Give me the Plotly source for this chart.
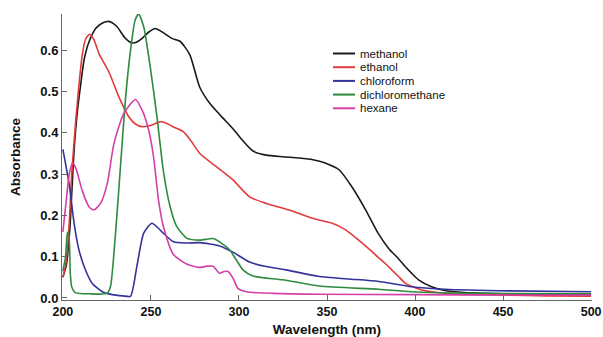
import plotly.graph_objects as go

# --- data ---
methanol_wl = [200, 202, 204, 205, 206.4, 208.3, 210.2, 212, 214.8, 218.6, 222, 225.2, 228, 230.8,
               235.5, 239.3, 242, 245, 249, 252.5, 256.2, 261.9, 266.5, 272, 277.8, 283.5, 290, 296.6,
               302, 308, 315.5, 325, 334, 342, 349, 357, 364, 372, 379, 385, 390.6, 394.4, 398,
               402, 409.4, 417, 428, 440, 460, 480, 500]
methanol_abs = [0.05, 0.08, 0.17, 0.25, 0.36, 0.455, 0.52, 0.576, 0.62, 0.653, 0.665, 0.67, 0.667, 0.657,
                0.629, 0.618, 0.62, 0.629, 0.645, 0.653, 0.645, 0.629, 0.622, 0.59, 0.51, 0.471, 0.44, 0.41,
                0.382, 0.356, 0.346, 0.342, 0.339, 0.335, 0.327, 0.31, 0.27, 0.213, 0.157, 0.12, 0.095, 0.076, 0.06,
                0.044, 0.027, 0.018, 0.013, 0.011, 0.009, 0.008, 0.008]

ethanol_wl = [200, 201.7, 203.6, 205, 206.4, 207.3, 209.2, 211.1, 213, 215.2, 217.7, 220.5, 226.1,
              231.8, 237.4, 241, 245, 250.6, 255.3, 258.5, 261.9, 268.4, 272, 277.8, 287.2, 296.6, 306,
              315.5, 328.6, 341.7, 353, 360.6, 368, 375.6, 379.4, 383, 387, 390.6, 394.4, 403.8, 413,
              425, 450, 475, 500]
ethanol_abs = [0.05, 0.084, 0.18, 0.30, 0.38, 0.43, 0.52, 0.592, 0.628, 0.639, 0.625, 0.592, 0.548,
               0.487, 0.439, 0.422, 0.415, 0.419, 0.427, 0.424, 0.416, 0.403, 0.385, 0.35, 0.318, 0.286, 0.245,
               0.229, 0.213, 0.193, 0.181, 0.165, 0.14, 0.112, 0.097, 0.084, 0.067, 0.052, 0.036, 0.019, 0.013,
               0.009, 0.007, 0.005, 0.004]

chloroform_wl = [200, 203.6, 206.4, 209.2, 213, 216.7, 222.4, 228, 234, 238.4, 242, 245.9, 250.6,
                 257, 262.8, 270, 277.8, 289, 296.6, 306, 315.5, 326.7, 345.5, 362, 379.4, 398, 417,
                 454, 500]
chloroform_abs = [0.36, 0.275, 0.18, 0.115, 0.066, 0.035, 0.015, 0.008, 0.005, 0.004, 0.076, 0.157, 0.181,
                  0.157, 0.136, 0.133, 0.134, 0.126, 0.111, 0.087, 0.076, 0.068, 0.052, 0.046, 0.04, 0.027, 0.021,
                  0.017, 0.015]

dcm_wl = [200, 201.5, 202.6, 203.3, 204.2, 205, 207, 215, 225, 227, 229.9, 232.7, 235.5, 238.4, 241,
          243, 245.9, 249.6, 253.4, 257, 260.9, 264.7, 270.3, 277.8, 285.3, 289, 294.8, 298.5, 302.3,
          307.9, 324.8, 345.5, 379.4, 398, 435.8, 500]
dcm_abs = [0.065, 0.1, 0.157, 0.16, 0.06, 0.027, 0.013, 0.01, 0.011, 0.027, 0.157, 0.318, 0.48, 0.6, 0.673,
           0.688, 0.657, 0.56, 0.44, 0.31, 0.221, 0.173, 0.145, 0.14, 0.144, 0.136, 0.116, 0.092, 0.068,
           0.053, 0.044, 0.029, 0.021, 0.015, 0.011, 0.01]

hexane_wl = [200, 202, 203.6, 205.5, 207.3, 211, 214.8, 217.6, 221.4, 225.2, 229, 234.6, 241.2, 245,
             248.7, 251.5, 254.3, 257.1, 262.8, 270.3, 277.8, 282, 285.3, 289, 291.5, 293.8, 296.6, 299.4,
             304.2, 320, 345, 400, 450, 500]
hexane_abs = [0.16, 0.24, 0.30, 0.327, 0.315, 0.26, 0.221, 0.213, 0.229, 0.277, 0.374, 0.447, 0.481, 0.455,
              0.407, 0.342, 0.237, 0.173, 0.105, 0.082, 0.074, 0.077, 0.077, 0.06, 0.064, 0.064, 0.048, 0.023,
              0.015, 0.011, 0.009, 0.008, 0.007, 0.007]

x_ticks = [200, 250, 300, 350, 400, 450, 500]
y_ticks = [0.0, 0.1, 0.2, 0.3, 0.4, 0.5, 0.6]
y_tick_text = ["0.0", "0.1", "0.2", "0.3", "0.4", "0.5", "0.6"]

series_names = ["methanol", "ethanol", "chloroform", "dichloromethane", "hexane"]
series_colors = ["#1a1a1a", "#e23b3b", "#33339a", "#2e8b3e", "#d43fa8"]
series_x = [methanol_wl, ethanol_wl, chloroform_wl, dcm_wl, hexane_wl]
series_y = [methanol_abs, ethanol_abs, chloroform_abs, dcm_abs, hexane_abs]

FONT = "Liberation Sans, Arial, sans-serif"

W, H = 603, 337
L, R, T, B = 62, 11, 14, 37
PW, PH = W - L - R, H - T - B


def px_to_paper(px, py):
    return (px - L) / PW, (T + PH - py) / PH


fig = go.Figure()
for name, xs, ys, col in zip(series_names, series_x, series_y, series_colors):
    fig.add_trace(go.Scatter(x=xs, y=ys, mode="lines", name=name, showlegend=False,
                             line=dict(color=col, width=1.6, shape="spline", smoothing=0.6)))

# legend drawn as paper-space swatches + labels (compact row spacing as in the reference)
row0, dy = 53.5, 13.7
for i, (name, col) in enumerate(zip(series_names, series_colors)):
    py = row0 + i * dy
    x0, yy = px_to_paper(333, py)
    x1, _ = px_to_paper(355, py)
    xt, _ = px_to_paper(358, py)
    fig.add_shape(type="line", xref="paper", yref="paper", x0=x0, x1=x1, y0=yy, y1=yy,
                  line=dict(color=col, width=2))
    fig.add_annotation(xref="paper", yref="paper", x=xt, y=yy, xanchor="left", yanchor="middle",
                       text=name, showarrow=False, font=dict(size=11.5, family=FONT, color="#111"))

fig.update_layout(
    width=W, height=H,
    margin=dict(l=L, r=R, t=T, b=B),
    paper_bgcolor="white", plot_bgcolor="white",
    font=dict(family=FONT, color="#111"),
    showlegend=False,
    xaxis=dict(range=[199.5, 500.5], tickvals=x_ticks, ticktext=["<b>%d</b>" % v for v in x_ticks],
               ticks="inside", ticklen=5, tickcolor="#666", showline=True, linecolor="#666", linewidth=1,
               showgrid=False, zeroline=False, automargin=False, ticklabeloverflow="allow",
               tickfont=dict(size=12.5, family=FONT, color="#111"),
               title=dict(text="<b>Wavelength (nm)</b>", font=dict(size=13.5, family=FONT), standoff=6)),
    yaxis=dict(range=[-0.005, 0.688], tickvals=y_ticks, ticktext=["<b>%s</b>" % t for t in y_tick_text],
               ticks="inside", ticklen=5, tickcolor="#666", showline=True, linecolor="#666",
               linewidth=1, showgrid=False, zeroline=False, automargin=False, ticklabeloverflow="allow",
               tickfont=dict(size=13, family=FONT, color="#111"),
               title=dict(text="<b>Absorbance</b>", font=dict(size=13.5, family=FONT), standoff=16)),
)

fig.write_html("out.html",
               config={"displayModeBar": False},
               post_script="document.body.style.margin='0';document.body.style.overflow='hidden';")
